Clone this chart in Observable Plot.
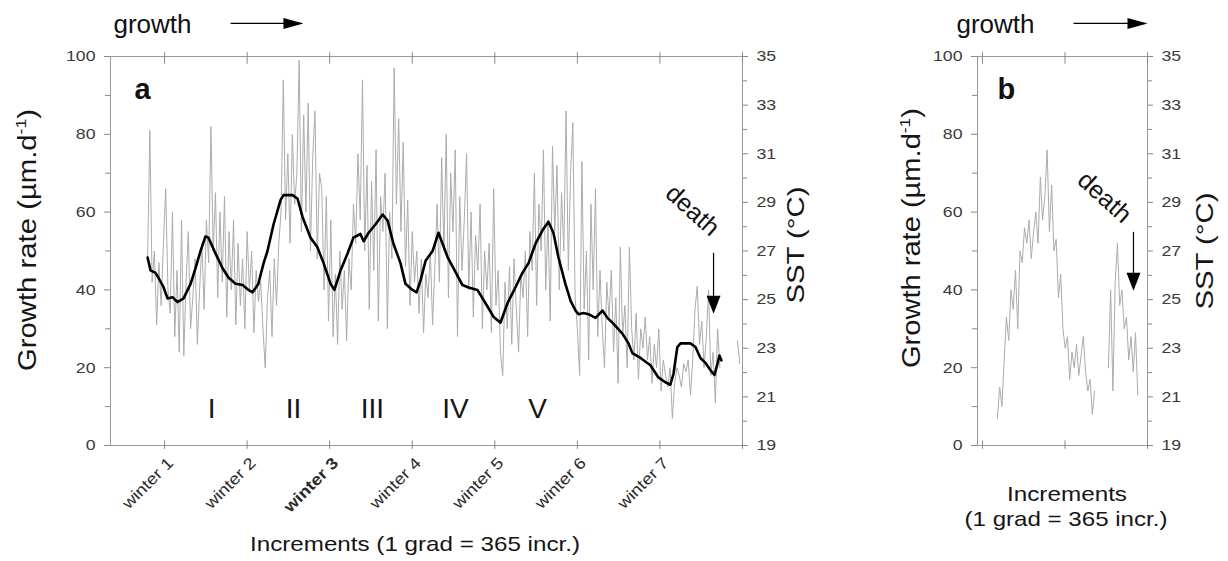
<!DOCTYPE html>
<html><head><meta charset="utf-8">
<script src="https://cdn.jsdelivr.net/npm/d3@7"></script>
<script src="https://cdn.jsdelivr.net/npm/@observablehq/plot@0.6"></script>
<style>
body{margin:0;background:#fff;}
#wrap{position:relative;width:1228px;height:561px;overflow:hidden;background:#fff;}
#wrap svg{position:absolute;top:0;overflow:visible;}
#wrap g[aria-label$="tick"] path{stroke:#888;}
</style></head><body><div id="wrap"></div>
<script>
// ---------- data ----------
const winterLabels = ["winter 1","winter 2","winter 3","winter 4","winter 5","winter 6","winter 7",""];
const winterTicksA = [365,730,1095,1460,1825,2190,2555,2920];
const ticksB = [0,365,730];
const leftMajor = [0,20,40,60,80,100];
const leftMinor = [10,30,50,70,90];
const sstMajor = [19,21,23,25,27,29,31,33,35];
const sstMinor = [20,22,24,26,28,30,32,34];

// panel a growth rate (µm/d), one value every 10 increments from increment 290
const growthAStart = 290, growthAStep = 10;
const growthA = [
 48,81,42,50,31,47,36,52,66,40,
 34,60,28,45,24,58,23,42,55,30,
 38,48,26,40,52,35,58,47,82,50,
 65,38,60,42,64,33,55,40,58,31,
 52,36,48,30,55,40,50,29,45,37,
 42,30,20,38,45,28,48,36,52,60,
 94,58,75,52,80,62,70,99,55,85,
 60,88,50,74,86,48,70,66,40,64,
 32,58,28,44,26,50,35,45,27,48,
 40,62,52,75,58,94,50,72,35,68,
 45,76,32,64,55,70,30,60,48,97,
 62,84,55,78,46,63,36,55,42,50,
 34,48,29,44,38,50,31,46,62,42,
 74,50,80,38,70,55,76,28,64,45,
 58,75,40,60,33,54,45,62,30,50,
 40,52,29,66,36,45,24,18,42,30,
 46,26,48,35,24,44,38,50,28,55,
 45,70,36,62,50,76,40,58,32,77,
 55,72,40,65,50,86,45,70,83,38,
 30,18,73,35,50,22,62,40,66,28,
 45,30,20,42,33,45,24,38,16,51,
 28,36,20,51,30,22,34,17,30,25,
 33,22,28,16,26,20,30,14,22,18,
 15,20,7,16,20,18,15,21,19,22,
 13,22,35,41,26,32,20,28,40,18,
 24,11,30,20
];
const growthATailStart = 2898;
const growthATail = [27,21];

// panel a SST (°C)
const sstAInc = [290,303,325,338,361,378,400,422,449,480,502,524,546,559,590,621,648,679,710,736,754,780,789,803,820,847,878,891,931,953,975,1010,1041,1068,1099,1116,1143,1174,1200,1231,1245,1267,1298,1329,1351,1377,1408,1430,1461,1479,1497,1519,1550,1576,1616,1642,1682,1709,1748,1784,1819,1850,1881,1916,1947,1974,2005,2036,2062,2084,2106,2137,2160,2182,2195,2217,2239,2270,2301,2323,2350,2389,2416,2433,2469,2513,2548,2579,2601,2615,2632,2646,2690,2712,2734,2756,2778,2796,2809,2818,2827];
const sstAVal = [26.73,26.2,26.1,25.9,25.5,25.05,25.1,24.9,25.05,25.65,26.3,27.0,27.6,27.55,26.9,26.3,25.9,25.65,25.6,25.4,25.3,25.65,26.0,26.5,27.0,28.1,29.1,29.3,29.3,29.15,28.4,27.55,27.15,26.5,25.65,25.4,26.2,26.9,27.55,27.7,27.4,27.75,28.1,28.5,28.25,27.3,26.5,25.65,25.4,25.3,25.8,26.6,27.0,27.75,26.75,26.3,25.6,25.5,25.4,24.85,24.3,24.05,24.85,25.5,26.1,26.5,27.3,27.85,28.2,27.75,26.75,25.65,24.95,24.55,24.4,24.45,24.4,24.25,24.55,24.25,24.0,23.6,23.2,22.8,22.6,22.3,21.8,21.6,21.5,21.95,23.05,23.2,23.2,23.05,22.6,22.4,22.1,21.9,22.35,22.7,22.5];

const romanLabels = ["I","II","III","IV","V"];
const romanInc = [573,935,1284,1651,2014];

// panel b growth rate, two segments, one value every 10 increments
const growthBStep = 10;
const growthB1Start = 66;
const growthB1 = [7,15,10,22,33,27,40,35,45,30,50,47,56,52,58,48,55,60,52,69,58,64,76,55,67,50,53,38,44,30,25,28,17,24,20,26,18,23,28,19,14,17,8,14];
const growthB2Start = 557;
const growthB2 = [20,40,14,42,52,36,40,30,33,22,28,19,29,13];

// ---------- helpers ----------
const FONT = '"Liberation Sans", Arial, sans-serif';
const toY = s => (s - 19) * 100 / 16;
const fromY = y => 19 + y * 16 / 100;
const arrowRight = {draw(ctx){ctx.moveTo(0,0);ctx.lineTo(-20,-5.5);ctx.lineTo(-20,5.5);ctx.closePath();}};
const arrowDown = {draw(ctx){ctx.moveTo(0,0);ctx.lineTo(-7,-18);ctx.lineTo(7,-18);ctx.closePath();}};

const grayA = growthA.map((v,i)=>({x: growthAStart + i*growthAStep, y: v, s: 0}))
  .concat(growthATail.map((v,i)=>({x: growthATailStart + i*growthAStep, y: v, s: 1})));
const sstA = sstAInc.map((x,i)=>({x, y: toY(sstAVal[i])}));
const grayB = growthB1.map((v,i)=>({x: growthB1Start + i*growthBStep, y: v, s: 0}))
  .concat(growthB2.map((v,i)=>({x: growthB2Start + i*growthBStep, y: v, s: 1})));

function commonAxes(withXLabels, xticks){
  const m = [
    Plot.frame({stroke:"#9a9a9a"}),
    Plot.axisY({ticks: leftMajor, tickSize:6, tickPadding:9, label:null, fontSize:15, fill:"#3a3a3a"}),
    Plot.axisY({ticks: leftMinor, tickSize:5, tickFormat: ()=>"", label:null}),
    Plot.axisY({anchor:"right", ticks: sstMajor.map(toY), tickFormat: y => String(Math.round(fromY(y))), tickSize:5, tickPadding:9, label:null, fontSize:15, fill:"#3a3a3a"}),
    Plot.axisY({anchor:"right", ticks: sstMinor.map(toY), tickSize:4, tickFormat: ()=>"", label:null}),
    Plot.ruleX(xticks, {y1:-1, y2:1.2, stroke:"#888"}),
    Plot.ruleX(xticks, {y1:98, y2:101, stroke:"#888"})
  ];
  if (withXLabels) m.push(Plot.axisX({ticks: xticks, tickFormat: d => winterLabels[xticks.indexOf(d)], tickRotate:-45, tickSize:0, tickPadding:6, dx:6, dy:9, label:null, fontSize:16, fill:"#2a2a2a"}));
  else m.push(Plot.axisX({ticks: xticks, tickFormat: ()=>"", tickSize:0, label:null}));
  return m;
}

const wrap = document.getElementById("wrap");
const grayStyle = {x:"x", y:"y", z:"s", stroke:"#acacac", strokeWidth:1};

const plotA = Plot.plot({
  width: 830, height: 561,
  marginLeft: 110, marginRight: 88, marginTop: 56, marginBottom: 116,
  x: {domain: [126, 2920]},
  y: {domain: [0, 100]},
  style: {fontFamily: FONT, fontSize: "15px", background: "transparent", overflow: "visible"},
  marks: [
    ...commonAxes(true, winterTicksA),
    Plot.line(grayA, grayStyle),
    Plot.line(sstA, {x:"x", y:"y", stroke:"#000", strokeWidth:2.6, strokeLinejoin:"round"}),
    Plot.text(romanLabels, {x:(d,i)=>romanInc[i], y:7, text:d=>d, fontSize:28, lineAnchor:"bottom", fill:"#151515"}),
    Plot.text(["a"], {frameAnchor:"top-left", dx:24, dy:42, textAnchor:"start", lineAnchor:"bottom", fontSize:29, fontWeight:"bold", fill:"#111"}),
    Plot.text(["growth"], {frameAnchor:"top-left", dx:3, dy:-24, textAnchor:"start", lineAnchor:"bottom", fontSize:26, fill:"#111", ariaLabel:"growth"}),
    Plot.link([0], {x1:()=>657, x2:()=>970, y1:()=>108.5, y2:()=>108.5, stroke:"#000", strokeWidth:1.2}),
    Plot.dot([0], {x:()=>979, y:()=>108.5, symbol: arrowRight, fill:"#000"}),
    Plot.text(["death"], {x:()=>2699, y:()=>60.4, rotate:42, fontSize:25, fill:"#111", ariaLabel:"death"}),
    Plot.ruleX([2792], {y1:49.4, y2:37, stroke:"#000", strokeWidth:1.2}),
    Plot.dot([2792], {x:d=>d, y:()=>33.9, symbol: arrowDown, fill:"#000"})
  ]
});
plotA.style.left = "0px";
wrap.appendChild(plotA);

const plotB = Plot.plot({
  width: 348, height: 561,
  marginLeft: 97, marginRight: 81, marginTop: 56, marginBottom: 116,
  x: {domain: [-22, 730]},
  y: {domain: [0, 100]},
  style: {fontFamily: FONT, fontSize: "15px", background: "transparent", overflow: "visible"},
  marks: [
    ...commonAxes(false, ticksB),
    Plot.line(grayB, grayStyle),
    Plot.text(["b"], {frameAnchor:"top-left", dx:20, dy:42, textAnchor:"start", lineAnchor:"bottom", fontSize:29, fontWeight:"bold", fill:"#111"}),
    Plot.text(["growth"], {frameAnchor:"top-left", dx:-21, dy:-24, textAnchor:"start", lineAnchor:"bottom", fontSize:26, fill:"#111", ariaLabel:"growth"}),
    Plot.link([0], {x1:()=>403, x2:()=>720, y1:()=>108.5, y2:()=>108.5, stroke:"#000", strokeWidth:1.2}),
    Plot.dot([0], {x:()=>730, y:()=>108.5, symbol: arrowRight, fill:"#000"}),
    Plot.text(["death"], {x:()=>540, y:()=>63.8, rotate:42, fontSize:25, fill:"#111", ariaLabel:"death"}),
    Plot.ruleX([668], {y1:54.8, y2:42, stroke:"#000", strokeWidth:1.2}),
    Plot.dot([668], {x:d=>d, y:()=>39.8, symbol: arrowDown, fill:"#000"})
  ]
});
plotB.style.left = "880px";
wrap.appendChild(plotB);

// ---------- text finishing ----------
function setLen(el, L){ el.setAttribute("textLength", L); el.setAttribute("lengthAdjust", "spacingAndGlyphs"); }
function stretchAll(svg, sel, f){
  svg.querySelectorAll(sel).forEach(t => { const L = t.getComputedTextLength(); if (L > 0) setLen(t, L * f); });
}
plotA.querySelectorAll('g[aria-label="x-axis tick label"] text').forEach(t => {
  if (t.textContent.trim() === "winter 3") t.setAttribute("font-weight", "bold");
});
for (const svg of [plotA, plotB]) {
  stretchAll(svg, 'g[aria-label="y-axis tick label"] text', 1.18);
  stretchAll(svg, 'g[aria-label="x-axis tick label"] text', 1.15);
  svg.querySelectorAll('g[aria-label="growth"] text').forEach(t => setLen(t, 86));
  svg.querySelectorAll('g[aria-label="death"] text').forEach(t => setLen(t, 74));
}

function addTitle(svg, {x, y, rotate = 0, size, parts, length, anchor = "middle"}) {
  const t = d3.select(svg).append("text")
    .attr("transform", `translate(${x},${y}) rotate(${rotate})`)
    .attr("text-anchor", anchor)
    .attr("font-family", FONT)
    .attr("font-size", size)
    .attr("fill", "#151515");
  for (const p of parts) {
    const s = t.append("tspan").text(p.text);
    if (p.dy) s.attr("dy", p.dy);
    if (p.size) s.attr("font-size", p.size);
  }
  if (length) setLen(t.node(), length);
  return t;
}
const growthTitle = [{text:"Growth rate (µm.d"},{text:"-1", dy:-10, size:15},{text:")", dy:10}];
addTitle(plotA, {x:36, y:240, rotate:-90, size:25, parts:growthTitle, length:262});
addTitle(plotA, {x:804, y:245, rotate:-90, size:24, parts:[{text:"SST (°C)"}], length:117});
addTitle(plotA, {x:415, y:551, size:21, parts:[{text:"Increments (1 grad = 365 incr.)"}], length:330});
addTitle(plotB, {x:40, y:238, rotate:-90, size:25, parts:growthTitle, length:260});
addTitle(plotB, {x:333, y:251, rotate:-90, size:24, parts:[{text:"SST (°C)"}], length:117});
addTitle(plotB, {x:187, y:501, size:21, parts:[{text:"Increments"}], length:120});
addTitle(plotB, {x:186, y:526, size:21, parts:[{text:"(1 grad = 365 incr.)"}], length:203});
</script>
</body></html>
